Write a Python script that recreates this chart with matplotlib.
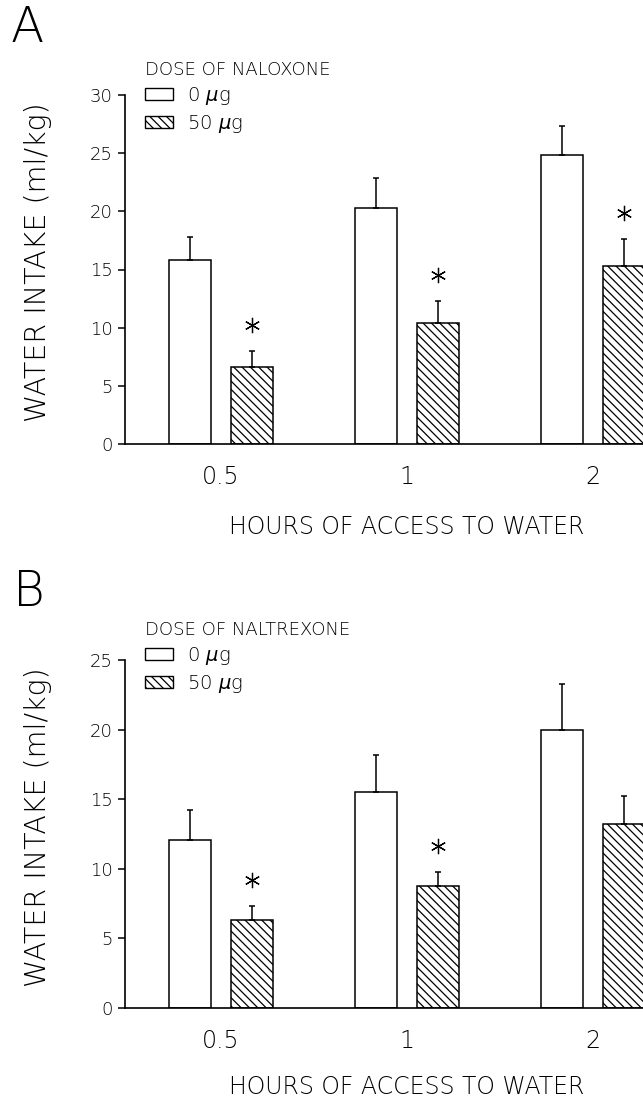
import numpy as np
import matplotlib
matplotlib.use("Agg")
import matplotlib.pyplot as plt
import matplotlib.transforms as mtransforms
from matplotlib.patches import Patch

plt.rcParams['font.family'] = ['DejaVu Sans']
plt.rcParams['mathtext.fontset'] = 'dejavusans'
plt.rcParams['hatch.linewidth'] = 0.9

hours = ['0.5', '1', '2']
doses = ['0 $\\mu$g', '50 $\\mu$g']

# panel A - naloxone
a_ctrl = [15.8, 20.3, 24.8]
a_ctrl_sem = [2.0, 2.6, 2.5]
a_drug = [6.6, 10.4, 15.3]
a_drug_sem = [1.4, 1.9, 2.3]
a_sig = [True, True, True]

# panel B - naltrexone
b_ctrl = [12.1, 15.5, 20.0]
b_ctrl_sem = [2.1, 2.7, 3.3]
b_drug = [6.3, 8.8, 13.2]
b_drug_sem = [1.0, 1.0, 2.0]
b_sig = [True, True, False]

W = 643 / 100
H = 1099 / 100
fig = plt.figure(figsize=(W, H), dpi=100)

FW = 200  # thin strokes like the plotter font


def panel(rect, letter, letter_xy, drug_name, legend_xy, xlab_y,
          ctrl, ctrl_sem, drug, drug_sem, sig, ymax):
    ax = fig.add_axes(rect)
    x = np.arange(len(hours))
    bw = 0.226
    off = 0.168
    ax.bar(x - off, ctrl, bw, color='white', edgecolor='black', linewidth=1.1, zorder=2)
    ax.bar(x + off, drug, bw, color='white', edgecolor='black', linewidth=1.1,
           hatch='\\\\\\\\', zorder=2)
    ax.errorbar(x - off, ctrl, yerr=[np.zeros(3), ctrl_sem], fmt='none', ecolor='black',
                elinewidth=1.1, capsize=2.4, capthick=1.1, zorder=3)
    ax.errorbar(x + off, drug, yerr=[np.zeros(3), drug_sem], fmt='none', ecolor='black',
                elinewidth=1.1, capsize=2.4, capthick=1.1, zorder=3)
    # asterisks a fixed distance above the error bars
    tr = mtransforms.offset_copy(ax.transData, fig=fig, y=26, units='dots')
    for i in range(len(hours)):
        if sig[i]:
            ax.plot(x[i] + off, drug[i] + drug_sem[i], marker=(6, 2, 0), markersize=11,
                    color='black', markeredgewidth=0.9, transform=tr, clip_on=False)

    ax.set_xlim(-0.513, 2.269)
    ax.set_ylim(0, ymax)
    ax.set_yticks(np.arange(0, ymax + 1, 5))
    ax.set_xticks(x, hours)
    ax.tick_params(axis='x', length=0, pad=15, labelsize=17)
    ax.tick_params(axis='y', length=5, width=1.1, direction='out', labelsize=13, pad=4)
    for lab in ax.get_xticklabels() + ax.get_yticklabels():
        lab.set_fontweight(FW)
    for s in ['top', 'right']:
        ax.spines[s].set_visible(False)
    for s in ['left', 'bottom']:
        ax.spines[s].set_linewidth(1.2)

    ax.text(0.543, xlab_y, 'HOURS OF ACCESS TO WATER', transform=ax.transAxes,
            ha='center', va='center', fontsize=17, fontweight=FW)
    ax.text(-0.17, 0.52, 'WATER INTAKE (ml/kg)', transform=ax.transAxes, rotation=90,
            ha='center', va='center', fontsize=20.5, fontweight=FW)

    fig.text(letter_xy[0], letter_xy[1], letter, fontsize=35, fontweight=FW,
             ha='left', va='center')

    handles = [Patch(facecolor='white', edgecolor='black', linewidth=1.0),
               Patch(facecolor='white', edgecolor='black', linewidth=1.0, hatch='\\\\\\\\')]
    leg = ax.legend(handles, doses, title=drug_name, loc='upper left',
                    bbox_to_anchor=legend_xy, bbox_transform=fig.transFigure,
                    frameon=False, alignment='left', fontsize=14, title_fontsize=13,
                    borderpad=0, borderaxespad=0, handlelength=1.45, handleheight=0.6,
                    handletextpad=0.7, labelspacing=0.3)
    leg.get_title().set_fontweight(FW)
    for t in leg.get_texts():
        t.set_fontweight(FW)
    return ax


left = 125.5 / 643
width = 1 - left
panel([left, 1 - 444 / 1099, width, 349 / 1099], 'A', (11 / 643, 1 - 28 / 1099),
      'DOSE OF NALOXONE', (145 / 643, 1 - 61 / 1099), -0.238,
      a_ctrl, a_ctrl_sem, a_drug, a_drug_sem, a_sig, 30)
panel([left, 1 - 1008 / 1099, width, 348 / 1099], 'B', (13 / 643, 1 - 592 / 1099),
      'DOSE OF NALTREXONE', (145 / 643, 1 - 621 / 1099), -0.227,
      b_ctrl, b_ctrl_sem, b_drug, b_drug_sem, b_sig, 25)

fig.savefig('out.png', dpi=100)
